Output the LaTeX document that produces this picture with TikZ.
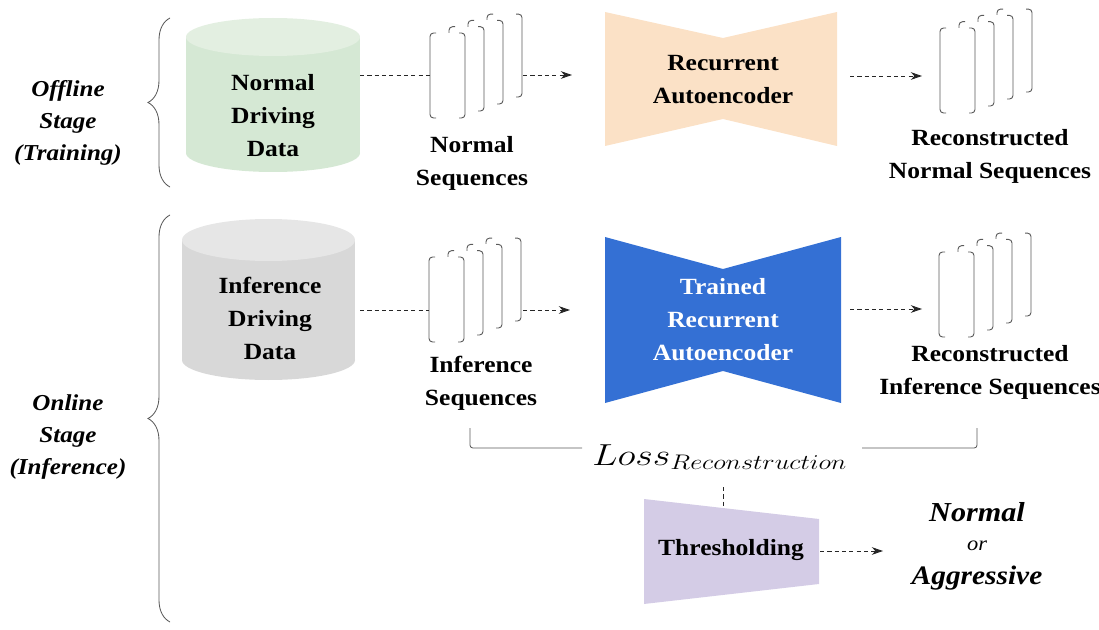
\documentclass[tikz,border=0pt]{standalone}
\usepackage{graphicx}
\usepackage{fontspec}
\setmainfont{Liberation Serif}[FakeStretch=1.1]
\usetikzlibrary{arrows.meta,decorations.pathreplacing}

\definecolor{normgreen}{HTML}{D5E8D4}
\definecolor{normgreentop}{HTML}{E3EFE1}
\definecolor{infgray}{HTML}{D8D8D8}
\definecolor{infgraytop}{HTML}{E6E6E6}
\definecolor{aepeach}{HTML}{FBE1C6}
\definecolor{aeblue}{HTML}{3470D4}
\definecolor{thlilac}{HTML}{D4CCE6}
\definecolor{linegray}{HTML}{5A5A5A}

\begin{document}
\begin{tikzpicture}[x=0.025cm,y=-0.025cm,>={Stealth[length=8pt,width=5.5pt]},
  lbl/.style={align=center,inner sep=0pt,font=\fontsize{16.5}{23.5}\selectfont\bfseries},
  stage/.style={align=center,inner sep=0pt,font=\fontsize{16.2}{22.7}\selectfont\bfseries\itshape},
  dashline/.style={draw=black!85,line width=0.7pt,dash pattern=on 3pt off 2.2pt},
  flow/.style={dashline,->},
  frame/.style={draw=linegray,line width=0.65pt,rounded corners=2.5pt},
  stagebrace/.style={draw=linegray,line width=0.6pt,decorate,decoration={brace,amplitude=0.55cm}},
  lossline/.style={draw=linegray,line width=0.6pt,rounded corners=2pt}]

  \useasboundingbox (0,0) rectangle (1099,630);

  % stages
  \node[stage] (offl) at (68,123) {Offline\\Stage\\(Training)};
  \node[stage] (onl) at (68,437) {Online\\Stage\\(Inference)};
  \draw[stagebrace] (170,187) -- (170,18);
  \draw[stagebrace] (170,622) -- (170,215);

  % driving data
  \fill[normgreen] (186,37) rectangle (360,153);
  \fill[normgreen] (273,153) ellipse [x radius=87,y radius=19];
  \fill[normgreentop] (273,37) ellipse [x radius=87,y radius=19];
  \node[lbl] (ndb) at (273,116) {Normal\\Driving\\Data};
  \fill[infgray] (182,240) rectangle (355,360);
  \fill[infgray] (268.5,360) ellipse [x radius=86.5,y radius=20];
  \fill[infgraytop] (268.5,240) ellipse [x radius=86.5,y radius=21];
  \node[lbl] (idb) at (270,318) {Inference\\Driving\\Data};

  % sequence stacks
  \foreach \sx/\sy in {430/33,429/257,940/28,939/252}{
    \foreach \k in {3,2,1,0}{
      \pgfmathsetmacro{\fl}{\sx+19*\k}
      \pgfmathsetmacro{\fr}{\fl+35}
      \pgfmathsetmacro{\ft}{\sy-6.3*\k}
      \pgfmathsetmacro{\fb}{\sy+85-7*\k}
      \fill[white] (\fl,\ft) rectangle (\fr,\fb);
      \draw[frame] (\fl+6,\ft) -- (\fl,\ft) -- (\fl,\fb) -- (\fl+6,\fb);
      \draw[frame] (\fr-6,\ft) -- (\fr,\ft) -- (\fr,\fb) -- (\fr-6,\fb);
    }
  }
  \node[lbl] (nseq) at (472,163) {Normal\\Sequences};
  \node[lbl] (iseq) at (481,383) {Inference\\Sequences};
  \node[lbl] (rnseq) at (990,156) {Reconstructed\\Normal Sequences};
  \node[lbl] (riseq) at (990,372) {Reconstructed\\Inference Sequences};

  % autoencoders
  \fill[aepeach] (605,12) -- (723,38) -- (837,12) -- (837,146) -- (723,119) -- (605,146) -- cycle;
  \node[lbl] (rae) at (723,80) {Recurrent\\Autoencoder};
  \fill[aeblue] (605,237) -- (723,269) -- (841,237) -- (841,403) -- (723,371) -- (605,403) -- cycle;
  \node[lbl,text=white] (trae) at (723,320) {Trained\\Recurrent\\Autoencoder};

  % loss and thresholding
  \node[inner sep=0pt,font=\fontsize{18.5}{20}\selectfont] (loss) at (720,457)
    {\scalebox{1.56}[1.25]{$Loss_{Reconstruction}$}};
  \fill[thlilac] (644,499) -- (819,519) -- (819,584) -- (644,604) -- cycle;
  \node[lbl] (thr) at (731,550) {Thresholding};

  % result
  \node[font=\fontsize{19.5}{20}\selectfont\bfseries\itshape] (outn) at (977,512) {Normal};
  \node[font=\fontsize{14.5}{16}\selectfont\itshape] (outor) at (977,546) {or};
  \node[font=\fontsize{19}{20}\selectfont\bfseries\itshape] (outa) at (977,578) {Aggressive};

  % connectors
  \coordinate (ndbout) at (360,75);
  \coordinate (nseqin) at (430,75);
  \coordinate (nseqout) at (523,75);
  \coordinate (raein) at (572,75);
  \coordinate (raeout) at (850,76);
  \coordinate (rnseqin) at (922,76);
  \coordinate (idbout) at (360,310);
  \coordinate (iseqin) at (429,310);
  \coordinate (iseqout) at (523,310);
  \coordinate (traein) at (570,310);
  \coordinate (traeout) at (850,309);
  \coordinate (riseqin) at (922,309);
  \coordinate (lossl) at (470,428);
  \coordinate (lossla) at (582,448);
  \coordinate (lossrb) at (862,448);
  \coordinate (lossr) at (977,428);
  \coordinate (lossdn) at (723,487);
  \coordinate (thrin) at (723,508);
  \coordinate (throut) at (820,551);
  \coordinate (outin) at (883,551);

  \draw[dashline] (ndbout) -- (nseqin);
  \draw[flow] (nseqout) -- (raein);
  \draw[flow] (raeout) -- (rnseqin);
  \draw[dashline] (idbout) -- (iseqin);
  \draw[flow] (iseqout) -- (traein);
  \draw[flow] (traeout) -- (riseqin);
  \draw[lossline] (lossl) |- (lossla);
  \draw[lossline] (lossrb) -| (lossr);
  \draw[dashline] (lossdn) -- (thrin);
  \draw[flow] (throut) -- (outin);
\end{tikzpicture}
\end{document}
